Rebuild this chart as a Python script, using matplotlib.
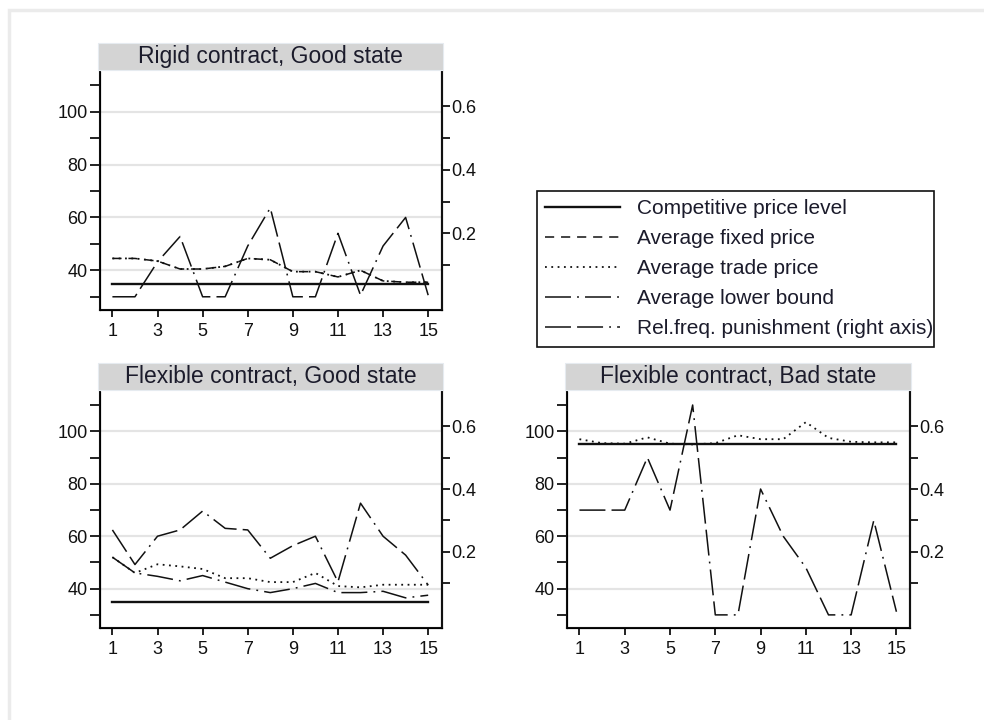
import matplotlib
matplotlib.use("Agg")
import matplotlib.pyplot as plt
from matplotlib.lines import Line2D
from matplotlib.patches import Rectangle

plt.rcParams['font.family'] = ['Liberation Sans', 'DejaVu Sans']

# ---- data -------------------------------------------------------------
periods = list(range(1, 16))
x_ticks = [1, 3, 5, 7, 9, 11, 13, 15]

panel_titles = ["Rigid contract, Good state",
                "Flexible contract, Good state",
                "Flexible contract, Bad state"]

legend_labels = ["Competitive price level",
                 "Average fixed price",
                 "Average trade price",
                 "Average lower bound",
                 "Rel.freq. punishment (right axis)"]

# Rigid contract, good state
rg_competitive = [35] * 15
rg_fixed = [44.5, 44.5, 43.5, 40.5, 40.5, 41.5, 44.5, 44, 39.5, 39.5, 37.5, 40, 36, 35.5, 35.5]
rg_trade = [44.5, 44.5, 43.5, 40.5, 40.5, 41.5, 44.5, 44, 39.5, 39.5, 37.5, 40, 36, 35.5, 35.5]
rg_punish = [0, 0, 0.11, 0.19, 0, 0, 0.16, 0.28, 0, 0, 0.2, 0.005, 0.16, 0.25, 0.005]

# Flexible contract, good state
fg_competitive = [35] * 15
fg_trade = [52, 46, 49.3, 48.5, 47.5, 44, 44, 42.5, 42.5, 46, 41, 40.5, 41.5, 41.5, 41.5]
fg_lower = [52, 46, 44.7, 43, 45, 42.5, 40, 38.5, 40, 42, 38.5, 38.5, 39, 36.5, 37.5]
fg_punish = [0.27, 0.16, 0.25, 0.27, 0.33, 0.275, 0.27, 0.18, 0.22, 0.25, 0.105, 0.355, 0.25, 0.19, 0.095]

# Flexible contract, bad state
fb_competitive = [95] * 15
fb_trade = [97, 95.5, 95.3, 97.7, 95.3, 95, 95.5, 98.5, 97, 97, 103.5, 97.5, 96, 95.8, 95.8]
fb_punish = [0.333, 0.333, 0.333, 0.5, 0.333, 0.667, 0, 0, 0.4, 0.25, 0.15, 0, 0, 0.3, 0.01]

# ---- styles -----------------------------------------------------------
INK = "#111111"
styles = {
    "comp":   dict(color=INK, lw=1.7, ls="-"),
    "fixed":  dict(color=INK, lw=1.1, ls=(0, (6, 4.5))),
    "trade":  dict(color=INK, lw=1.3, ls=(0, (1, 2.5))),
    "lower":  dict(color=INK, lw=1.1, ls=(0, (17, 4, 1.2, 4))),
    "punish": dict(color=INK, lw=1.1, ls=(0, (17, 4, 17, 4, 1.2, 4))),
}

LEFT_LIM = (25, 115)
RIGHT_LIM = ((25 - 30) / 120, (115 - 30) / 120)

W, H = 984, 720
fig = plt.figure(figsize=(W / 100, H / 100), dpi=100)
fig.patch.set_facecolor("white")

# light outer frame
fig.add_artist(Rectangle((9 / W, -0.05), 1.2, 1 - 10 / H + 0.05, fill=False,
                         edgecolor="#ebebeb", lw=2.5, transform=fig.transFigure,
                         clip_on=False))


def make_panel(rect_px, title):
    x0, y0, x1, y1 = rect_px  # left, top, right, bottom in pixels
    ax = fig.add_axes([x0 / W, 1 - y1 / H, (x1 - x0) / W, (y1 - y0) / H])
    ax.set_xlim(0.45, 15.6)
    ax.set_ylim(*LEFT_LIM)
    ax.set_xticks(x_ticks)
    ax.set_xticklabels([str(t) for t in x_ticks])
    ax.set_yticks([40, 60, 80, 100])
    ax.set_yticks([30, 50, 70, 90, 110], minor=True)
    ax.yaxis.grid(True, which="major", color="#e4e4e4", lw=1.6)
    ax.set_axisbelow(True)
    for s in ("left", "right", "bottom"):
        ax.spines[s].set_linewidth(1.5)
        ax.spines[s].set_color(INK)
    ax.spines["top"].set_visible(False)
    ax.tick_params(axis="y", which="both", direction="out", length=7, width=1.3,
                   labelsize=13, pad=2, colors=INK)
    ax.tick_params(axis="x", which="both", direction="out", length=5, width=1.3,
                   labelsize=13, pad=4, colors=INK)

    tw = ax.twinx()
    tw.set_ylim(*RIGHT_LIM)
    tw.set_yticks([0.2, 0.4, 0.6])
    tw.set_yticklabels(["0.2", "0.4", "0.6"])
    tw.set_yticks([0.1, 0.3, 0.5], minor=True)
    tw.spines["top"].set_visible(False)
    tw.spines["right"].set_linewidth(1.5)
    tw.spines["right"].set_color(INK)
    tw.tick_params(axis="y", which="both", direction="out", length=6, width=1.3,
                   labelsize=13, pad=1, colors=INK)

    # title bar
    fig.add_artist(Rectangle(((x0 - 2) / W, 1 - (y0 - 2) / H), (x1 - x0 + 3) / W, 27 / H,
                             facecolor="#d4d4d4", edgecolor="#e6ebf0", lw=0.8,
                             transform=fig.transFigure))
    fig.text((x0 + x1) / 2 / W, 1 - (y0 - 2 - 13.5) / H, title, ha="center",
             va="center", fontsize=16.5, color="#1b1b2b")
    return ax, tw


ax1, tw1 = make_panel((100, 72, 441.7, 310), panel_titles[0])
ax2, tw2 = make_panel((100, 392, 441.7, 628), panel_titles[1])
ax3, tw3 = make_panel((567, 392, 910, 628), panel_titles[2])

# Rigid contract, good state
ax1.plot(periods, rg_competitive, **styles["comp"])
ax1.plot(periods, rg_fixed, **styles["fixed"])
ax1.plot(periods, rg_trade, **styles["trade"])
tw1.plot(periods, rg_punish, **styles["punish"])

# Flexible contract, good state
ax2.plot(periods, fg_competitive, **styles["comp"])
ax2.plot(periods, fg_trade, **styles["trade"])
ax2.plot(periods, fg_lower, **styles["lower"])
tw2.plot(periods, fg_punish, **styles["punish"])

# Flexible contract, bad state
ax3.plot(periods, fb_competitive, **styles["comp"])
ax3.plot(periods, fb_trade, **styles["trade"])
tw3.plot(periods, fb_punish, **styles["punish"])

# shared legend: entries without frame, box drawn separately
handles = [Line2D([], [], **styles[k]) for k in ("comp", "fixed", "trade", "lower", "punish")]
leg = fig.legend(handles, legend_labels, loc="upper left",
                 bbox_to_anchor=(545 / W, 1 - 199 / H), bbox_transform=fig.transFigure,
                 fontsize=15, frameon=False, handlelength=3.6, handletextpad=0.8,
                 labelspacing=0.53, borderpad=0, borderaxespad=0)
for t in leg.get_texts():
    t.set_color("#1b1b2b")
fig.add_artist(Rectangle((537 / W, 1 - 347 / H), 397 / W, 156 / H, fill=False,
                         edgecolor=INK, lw=1.2, transform=fig.transFigure))

fig.savefig("out.png", dpi=100, facecolor="white")
